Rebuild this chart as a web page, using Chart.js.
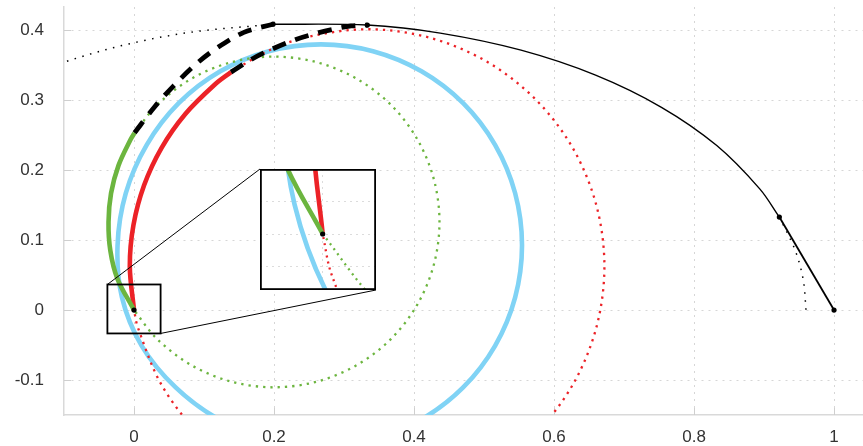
<!DOCTYPE html>
<html>
<head>
<meta charset="utf-8">
<script src="https://cdn.jsdelivr.net/npm/chart.js@4.4.1/dist/chart.umd.min.js"></script>
<style>
  html, body { margin: 0; padding: 0; background: #fff; }
  #wrap { position: relative; width: 863px; height: 446px; }
  #main { position: absolute; left: 0; top: 0; }
  #inset { position: absolute; left: 260px; top: 169px; }
</style>
</head>
<body>
<div id="wrap">
  <canvas id="main" width="863" height="446"></canvas>
  <canvas id="inset" width="116" height="121"></canvas>
</div>
<script>
// axis ticks
const xTicks = [0, 0.2, 0.4, 0.6, 0.8, 1];
const xTickLabels = ['0', '0.2', '0.4', '0.6', '0.8', '1'];
const yTicks = [-0.1, 0, 0.1, 0.2, 0.3, 0.4];
const yTickLabels = ['-0.1', '0', '0.1', '0.2', '0.3', '0.4'];

// light blue circle
const blueX = [0.267, 0.3414, 0.4107, 0.4702, 0.5158, 0.5445, 0.5543, 0.5445, 0.5158, 0.4702, 0.4107, 0.3414, 0.267,
               0.1926, 0.1233, 0.0638, 0.0182, -0.0118, -0.0235, -0.0172, 0.011, 0.0595, 0.1212, 0.1926, 0.267];
const blueY = [-0.1947, -0.1849, -0.1562, -0.1106, -0.0511, 0.0182, 0.0926, 0.167, 0.2363, 0.2958, 0.3414, 0.3701, 0.3799,
               0.3701, 0.3414, 0.2958, 0.2363, 0.167, 0.0926, 0.0182, -0.0511, -0.1106, -0.1562, -0.1849, -0.1947];

// red arc (solid) and the rest of its circle (dotted)
const redX = [0, -0.006, -0.0008, 0.0144, 0.0394, 0.0733, 0.1151, 0.1386];
const redY = [0, 0.0625, 0.1214, 0.1784, 0.232, 0.2804, 0.3222, 0.3402];
const redDotX = [0.1386, 0.1897, 0.2453, 0.333, 0.4207, 0.5025, 0.5727, 0.6266, 0.6604, 0.672, 0.6604,
                 0.6266, 0.5727, 0.5025, 0.4207, 0.333, 0.2453, 0.1635, 0.0933, 0.0394, 0.0056, 0];
const redDotY = [0.3402, 0.3697, 0.3899, 0.4015, 0.3899, 0.3561, 0.3022, 0.232, 0.1502, 0.0625, -0.0252,
                 -0.107, -0.1772, -0.2311, -0.2649, -0.2765, -0.2649, -0.2311, -0.1772, -0.107, -0.0252, 0];

// green arc (solid) and the rest of its circle (dotted)
const greenX = [0, -0.0238, -0.0338, -0.0364, -0.0328, -0.0221, -0.0047, 0.0008];
const greenY = [0, 0.0451, 0.085, 0.126, 0.167, 0.2069, 0.2442, 0.2534];
const greenDotX = [0.0008, 0.0328, 0.0818, 0.1388, 0.2, 0.2612, 0.3182, 0.3672, 0.4047, 0.4283, 0.4364,
                   0.4283, 0.4047, 0.3672, 0.3182, 0.2612, 0.2, 0.1388, 0.0818, 0.0328, 0];
const greenDotY = [0.2534, 0.2932, 0.3307, 0.3543, 0.3624, 0.3543, 0.3307, 0.2932, 0.2442, 0.1872, 0.126,
                   0.0648, 0.0078, -0.0412, -0.0787, -0.1023, -0.1104, -0.1023, -0.0787, -0.0412, 0];

// black dashed transition curves
const dashOuterX = [0.0008, 0.029, 0.057, 0.089, 0.119, 0.157, 0.1986];
const dashOuterY = [0.2534, 0.29, 0.321, 0.352, 0.375, 0.397, 0.4087];
const dashInnerX = [0.1386, 0.17, 0.2, 0.23, 0.26, 0.285, 0.31, 0.3333];
const dashInnerY = [0.3402, 0.3597, 0.3743, 0.3865, 0.3955, 0.4016, 0.4062, 0.4075];

// black outer curve
const outerX = [0.1986, 0.3333, 0.4375, 0.5529, 0.6594, 0.7535, 0.8325, 0.8939, 0.9219];
const outerY = [0.4087, 0.4075, 0.396, 0.3716, 0.3359, 0.2899, 0.2352, 0.1733, 0.133];
const outerLeftX = [-0.2435, -0.1494, -0.0429, 0.0725, 0.1986];
const outerLeftY = [0.2899, 0.3359, 0.3716, 0.396, 0.4087];
const outerRightX = [0.9219, 0.9446, 0.9561, 0.96];
const outerRightY = [0.133, 0.0852, 0.0429, 0];
const segX = [0.9219, 1];
const segY = [0.133, 0];

// marked points
const dotX = [0, 0.1986, 0.3333, 0.9219, 1];
const dotY = [0, 0.4087, 0.4075, 0.133, 0];

// zoom window and inset ranges
const zoomBoxX = [-0.038, 0.038];
const zoomBoxY = [-0.0334, 0.0366];
const insetX = [-0.0382, 0.0325];
const insetY = [-0.0341, 0.0396];
const insetXTicks = [0];
const insetYTicks = [-0.02, 0, 0.02];

const INSET = { left: 260, top: 169, width: 116, height: 121 };

const BLUE = '#80d3f5';
const RED = '#ec2227';
const GREEN = '#6cb53f';

Chart.defaults.font.family = "'Liberation Sans', Arial, sans-serif";
Chart.defaults.font.size = 17;
Chart.defaults.color = '#333';

function series(xs, ys, style) {
    return Object.assign({
        data: xs.map((x, i) => ({ x: x, y: ys[i] })),
        showLine: true,
        pointRadius: 0,
        tension: 0.33,
        clip: 0,
        fill: false
    }, style);
}

function dots(xs, ys) {
    return series(xs, ys, {
        showLine: false,
        pointRadius: 2.6,
        pointBackgroundColor: '#000',
        pointBorderWidth: 0
    });
}

// first dataset is drawn on top
function curveSets(full) {
    const sets = [];
    if (full) {
        sets.push(dots(dotX, dotY));
        sets.push(series(segX, segY, { borderColor: '#000', borderWidth: 1.8, tension: 0 }));
        sets.push(series(outerX, outerY, { borderColor: '#000', borderWidth: 1.4 }));
        sets.push(series(outerLeftX, outerLeftY, { borderColor: '#000', borderWidth: 1.5, borderDash: [1.5, 6.5] }));
        sets.push(series(outerRightX, outerRightY, { borderColor: '#000', borderWidth: 1.5, borderDash: [1.5, 6.5] }));
        sets.push(series(dashOuterX, dashOuterY, { borderColor: '#000', borderWidth: 4.8, borderDash: [14, 10] }));
        sets.push(series(dashInnerX, dashInnerY, { borderColor: '#000', borderWidth: 4.8, borderDash: [14, 10] }));
    } else {
        sets.push(dots([dotX[0]], [dotY[0]]));
    }
    const dash = full ? [2.3, 5] : [2, 4.2];
    sets.push(series(greenX, greenY, { borderColor: GREEN, borderWidth: 4.6 }));
    sets.push(series(redX, redY, { borderColor: RED, borderWidth: 4.6 }));
    sets.push(series(greenDotX, greenDotY, { borderColor: GREEN, borderWidth: 2.3, borderDash: dash }));
    sets.push(series(redDotX, redDotY, { borderColor: RED, borderWidth: 2.3, borderDash: dash }));
    sets.push(series(blueX, blueY, { borderColor: BLUE, borderWidth: 4.6 }));
    return sets;
}

const overlayPlugin = {
    id: 'overlay',
    beforeDatasetsDraw(chart) {
        const { ctx, chartArea: a, scales: { x, y } } = chart;
        ctx.save();
        ctx.strokeStyle = '#cfcfcf';
        ctx.lineWidth = 1;
        ctx.beginPath();
        xTicks.forEach(v => {
            const px = Math.round(x.getPixelForValue(v)) + 0.5;
            ctx.moveTo(px, a.bottom);
            ctx.lineTo(px, a.bottom - 7);
        });
        yTicks.forEach(v => {
            const py = Math.round(y.getPixelForValue(v)) + 0.5;
            ctx.moveTo(a.left, py);
            ctx.lineTo(a.left + 7, py);
        });
        ctx.stroke();
        ctx.restore();
    },
    afterDatasetsDraw(chart) {
        const { ctx, scales: { x, y } } = chart;
        const l = x.getPixelForValue(zoomBoxX[0]);
        const r = x.getPixelForValue(zoomBoxX[1]);
        const t = y.getPixelForValue(zoomBoxY[1]);
        const b = y.getPixelForValue(zoomBoxY[0]);
        ctx.save();
        ctx.strokeStyle = '#000';
        ctx.lineWidth = 1;
        ctx.beginPath();
        ctx.moveTo(l, t);
        ctx.lineTo(INSET.left, INSET.top);
        ctx.moveTo(r, b);
        ctx.lineTo(INSET.left + INSET.width, INSET.top + INSET.height);
        ctx.stroke();
        ctx.lineWidth = 1.8;
        ctx.strokeRect(l, t, r - l, b - t);
        ctx.restore();
    }
};

new Chart(document.getElementById('main'), {
    type: 'scatter',
    data: { datasets: curveSets(true) },
    options: {
        responsive: false,
        animation: false,
        devicePixelRatio: 1,
        events: [],
        layout: { autoPadding: false, padding: { top: 7, left: 0, right: 0, bottom: 0 } },
        elements: { line: { capBezierPoints: false } },
        plugins: { legend: { display: false }, tooltip: { enabled: false } },
        scales: {
            x: {
                type: 'linear',
                min: -0.1,
                max: 1.0414,
                afterBuildTicks: s => { s.ticks = xTicks.map(v => ({ value: v })); },
                afterFit: s => { s.height = 31; s.paddingLeft = 0; s.paddingRight = 0; },
                ticks: { padding: 12, maxRotation: 0, callback: (v, i) => xTickLabels[i] },
                grid: { color: '#d6d6d6', lineWidth: 1, drawTicks: false },
                border: { display: true, color: '#d9d9d9', width: 1.5, dash: [2, 5] }
            },
            y: {
                type: 'linear',
                min: -0.15,
                max: 0.4333,
                afterBuildTicks: s => { s.ticks = yTicks.map(v => ({ value: v })); },
                afterFit: s => { s.width = 64; s.paddingTop = 0; s.paddingBottom = 0; },
                ticks: { padding: 20, callback: (v, i) => yTickLabels[i] },
                grid: { color: '#d6d6d6', lineWidth: 1, drawTicks: false },
                border: { display: true, color: '#d9d9d9', width: 1.5, dash: [2, 5] }
            }
        }
    },
    plugins: [overlayPlugin]
});

const insetFrame = {
    id: 'insetFrame',
    beforeDraw(chart) {
        const { ctx, width, height } = chart;
        ctx.save();
        ctx.fillStyle = '#fff';
        ctx.fillRect(0, 0, width, height);
        ctx.restore();
    },
    afterDraw(chart) {
        const { ctx, width, height } = chart;
        ctx.save();
        ctx.strokeStyle = '#000';
        ctx.lineWidth = 1.8;
        ctx.strokeRect(0.9, 0.9, width - 1.8, height - 1.8);
        ctx.restore();
    }
};

new Chart(document.getElementById('inset'), {
    type: 'scatter',
    data: { datasets: curveSets(false) },
    options: {
        responsive: false,
        animation: false,
        devicePixelRatio: 1,
        events: [],
        layout: { autoPadding: false, padding: 0 },
        elements: { line: { capBezierPoints: false } },
        plugins: { legend: { display: false }, tooltip: { enabled: false } },
        scales: {
            x: {
                type: 'linear',
                min: insetX[0],
                max: insetX[1],
                afterBuildTicks: s => { s.ticks = insetXTicks.map(v => ({ value: v })); },
                afterFit: s => { s.height = 0; s.paddingLeft = 0; s.paddingRight = 0; },
                ticks: { display: false },
                grid: { color: '#dcdcdc', lineWidth: 1, drawTicks: false },
                border: { display: false, dash: [2, 4] }
            },
            y: {
                type: 'linear',
                min: insetY[0],
                max: insetY[1],
                afterBuildTicks: s => { s.ticks = insetYTicks.map(v => ({ value: v })); },
                afterFit: s => { s.width = 0; s.paddingTop = 0; s.paddingBottom = 0; },
                ticks: { display: false },
                grid: { color: '#dcdcdc', lineWidth: 1, drawTicks: false },
                border: { display: false, dash: [2, 4] }
            }
        }
    },
    plugins: [insetFrame]
});
</script>
</body>
</html>
